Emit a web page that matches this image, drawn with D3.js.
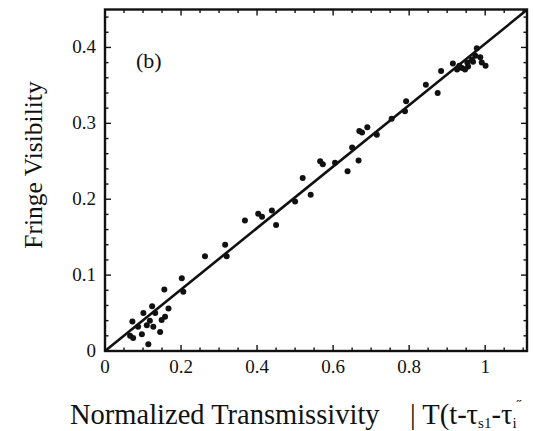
<!DOCTYPE html>
<html><head><meta charset="utf-8">
<script src="https://cdn.jsdelivr.net/npm/d3@7"></script>
<style>body{margin:0;background:#fff}svg{display:block}text{font-family:"Liberation Serif","Times New Roman",serif;fill:#111}</style>
</head><body>
<script>
const xValues = [0.263,0.202,0.206,0.156,0.124,0.167,0.101,0.158,0.149,0.072,0.118,0.127,0.110,0.145,0.097,0.066,0.074,0.114,0.087,0.132,
  0.368,0.316,0.320,0.403,0.413,0.439,0.450,0.500,0.520,0.541,0.566,0.573,0.605,0.638,0.650,0.667,0.669,0.676,0.690,0.715,
  0.754,0.792,0.789,0.844,0.875,0.884,0.915,0.926,0.939,0.947,0.953,0.965,0.974,0.978,0.987,0.991,1.001,0.955,0.968,0.932];
const yValues = [0.125,0.096,0.078,0.081,0.059,0.056,0.050,0.045,0.041,0.039,0.040,0.032,0.034,0.025,0.022,0.020,0.017,0.009,0.032,0.050,
  0.172,0.140,0.125,0.181,0.177,0.185,0.166,0.197,0.228,0.206,0.250,0.246,0.248,0.237,0.268,0.251,0.290,0.288,0.295,0.285,
  0.306,0.329,0.316,0.351,0.340,0.369,0.379,0.371,0.373,0.371,0.380,0.384,0.389,0.399,0.387,0.380,0.376,0.375,0.381,0.376];
const fitSlope = 0.405;
const xDomain = [0, 1.11];
const yDomain = [0, 0.45];
const xTickLabels = [0, 0.2, 0.4, 0.6, 0.8, 1];
const yTickLabels = [0, 0.1, 0.2, 0.3, 0.4];

const W = 533, H = 431;
const m = {left:105, right:6, top:9.5, bottom:80};
const svg = d3.select("body").append("svg").attr("width", W).attr("height", H);
const x = d3.scaleLinear().domain(xDomain).range([m.left, W - m.right]);
const y = d3.scaleLinear().domain(yDomain).range([H - m.bottom, m.top]);

const xMinor = d3.range(0, 1.1001, 0.05);
const yMinor = d3.range(0, 0.4501, 0.02);
const isMajX = v => Math.abs(v*5 - Math.round(v*5)) < 1e-6;
const isMajY = v => Math.abs(v*10 - Math.round(v*10)) < 1e-6;

const g = svg.append("g");
// ticks (inward)
xMinor.forEach(v => {
  const L = isMajX(v) ? 6 : 3.5;
  g.append("line").attr("x1", x(v)).attr("x2", x(v)).attr("y1", y(0)).attr("y2", y(0)-L).attr("stroke","#111").attr("stroke-width",1.4);
  g.append("line").attr("x1", x(v)).attr("x2", x(v)).attr("y1", y(0.45)).attr("y2", y(0.45)+L).attr("stroke","#111").attr("stroke-width",1.4);
});
yMinor.forEach(v => {
  const L = isMajY(v) ? 6 : 3.5;
  g.append("line").attr("y1", y(v)).attr("y2", y(v)).attr("x1", x(0)).attr("x2", x(0)+L).attr("stroke","#111").attr("stroke-width",1.4);
  g.append("line").attr("y1", y(v)).attr("y2", y(v)).attr("x1", x(1.11)).attr("x2", x(1.11)-L).attr("stroke","#111").attr("stroke-width",1.4);
});
// frame
g.append("rect").attr("x", x(0)).attr("y", y(0.45)).attr("width", x(1.11)-x(0)).attr("height", y(0)-y(0.45))
  .attr("fill","none").attr("stroke","#111").attr("stroke-width",2.4);

// tick labels
g.selectAll(".xl").data(xTickLabels).enter().append("text")
  .attr("x", d => x(d)).attr("y", y(0)+22).attr("text-anchor","middle").attr("font-size",19).text(d => d);
g.selectAll(".yl").data(yTickLabels).enter().append("text")
  .attr("x", x(0)-9).attr("y", d => y(d)+6).attr("text-anchor","end").attr("font-size",19).text(d => d);

// fit line
const x2 = Math.min(xDomain[1], yDomain[1]/fitSlope);
g.append("line").attr("x1", x(0)).attr("y1", y(0)).attr("x2", x(x2)).attr("y2", y(fitSlope*x2))
  .attr("stroke","#111").attr("stroke-width",2.6);

// points
g.selectAll(".pt").data(xValues.map((v,i)=>[v,yValues[i]])).enter().append("circle")
  .attr("cx", d => x(d[0])).attr("cy", d => y(d[1])).attr("r", 3).attr("fill","#111");

// panel label
g.append("text").attr("x", 136).attr("y", 68).attr("font-size",22).text("(b)");

// y title
g.append("text").attr("transform","translate(42,165) rotate(-90)").attr("text-anchor","middle")
  .attr("font-size",25.5).text("Fringe Visibility");

// x title
const xt = g.append("text").attr("x", 70).attr("y", 424).attr("font-size",28.5);
xt.append("tspan").text("Normalized Transmissivity");
xt.append("tspan").attr("x", 410).text("| T(t-τ");
xt.append("tspan").attr("font-size",15).attr("dy",4).text("s1");
xt.append("tspan").attr("dy",-4).text("-τ");
xt.append("tspan").attr("font-size",15).attr("dy",4).text("i");
xt.append("tspan").attr("font-size",15).attr("dy",-18).text("\u02DD");
</script>
</body></html>
